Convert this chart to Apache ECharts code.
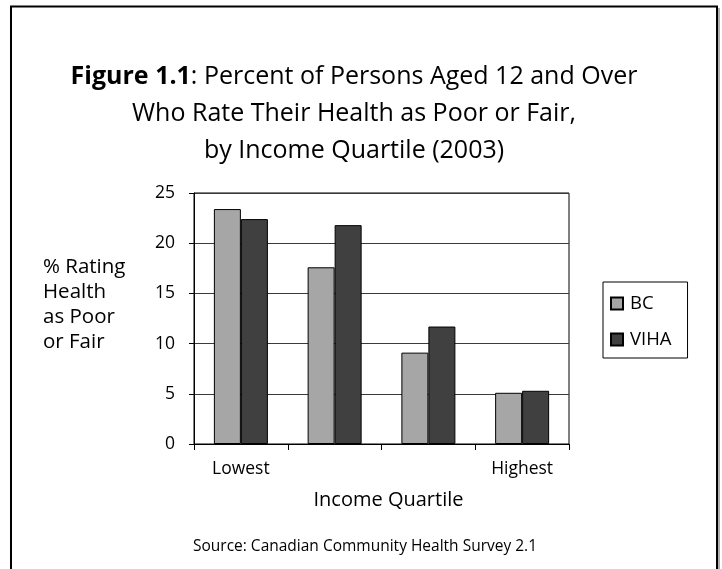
<!DOCTYPE html>
<html>
<head>
<meta charset="utf-8">
<script src="https://cdn.jsdelivr.net/npm/echarts@6/dist/echarts.min.js"></script>
<style>
  html, body { margin: 0; padding: 0; background: #fff; }
  #chart { width: 722px; height: 569px; }
</style>
</head>
<body>
<div id="chart"></div>
<script>
// Income quartiles along the x axis (only the two ends are labelled)
const quartileLabels = ['Lowest', '', '', 'Highest'];
// Percent rating their health as poor or fair
const bcValues = [23.4, 17.6, 9.1, 5.1];
const vihaValues = [22.4, 21.8, 11.7, 5.3];
const yTicks = [0, 5, 10, 15, 20, 25];

const FONT = '"Open Sans", "Noto Sans", sans-serif';

const chart = echarts.init(document.getElementById('chart'), null, { renderer: 'canvas' });

chart.setOption({
  backgroundColor: '#fff',
  animation: false,
  textStyle: { fontFamily: FONT, color: '#000' },
  legend: {
    orient: 'vertical',
    left: 603,
    top: 282,
    width: 60,
    padding: [12, 16, 9, 7],
    itemGap: 17,
    itemWidth: 12,
    itemHeight: 12,
    borderColor: '#000',
    borderWidth: 1,
    icon: 'rect',
    textStyle: { fontFamily: FONT, fontSize: 18.5, color: '#000', padding: [0, 0, 0, 2] },
    data: ['BC', 'VIHA']
  },
  grid: {
    left: 194,
    right: 153,
    top: 193,
    bottom: 125,
    show: true,
    borderColor: '#000',
    borderWidth: 1,
    containLabel: false
  },
  xAxis: {
    type: 'category',
    data: quartileLabels,
    name: 'Income Quartile',
    nameLocation: 'middle',
    nameGap: 46,
    nameTextStyle: { fontFamily: FONT, fontSize: 20, color: '#000', padding: [0, 0, 0, 14] },
    axisLine: { show: true, lineStyle: { color: '#000', width: 1 } },
    axisTick: { show: true, alignWithLabel: false, length: 6, lineStyle: { color: '#000' } },
    axisLabel: { fontFamily: FONT, fontSize: 17.5, color: '#000', margin: 16, interval: 0 },
    splitLine: { show: false }
  },
  yAxis: {
    type: 'value',
    min: yTicks[0],
    max: yTicks[yTicks.length - 1],
    interval: yTicks[1] - yTicks[0],
    axisLine: { show: true, lineStyle: { color: '#000', width: 1 } },
    axisTick: { show: true, length: 5, lineStyle: { color: '#000' } },
    axisLabel: { fontFamily: FONT, fontSize: 17.5, color: '#000', margin: 19 },
    splitLine: { show: true, lineStyle: { color: '#3a3a3a', width: 1 } }
  },
  series: [
    {
      name: 'BC',
      type: 'bar',
      data: bcValues,
      barWidth: 27,
      barGap: '0%',
      itemStyle: { color: '#a6a6a6', borderColor: '#000', borderWidth: 1 }
    },
    {
      name: 'VIHA',
      type: 'bar',
      data: vihaValues,
      barWidth: 27,
      barGap: '0%',
      itemStyle: { color: '#404040', borderColor: '#000', borderWidth: 1 }
    }
  ],
  graphic: [
    // outer frame with a soft shadow on the right edge
    {
      type: 'line',
      shape: { x1: 719, y1: 8, x2: 719, y2: 569 },
      style: { stroke: '#b0b0b0', lineWidth: 2 }
    },
    {
      type: 'rect',
      shape: { x: 11, y: 6.5, width: 706, height: 600 },
      style: { fill: 'none', stroke: '#000', lineWidth: 2 },
      silent: true
    },
    // three-line heading, first words in bold
    {
      type: 'text',
      x: 354,
      y: 58,
      style: {
        text: '{b|Figure 1.1}{n|: Percent of Persons Aged 12 and Over}\n{n|Who Rate Their Health as Poor or Fair,}\n{n|by Income Quartile (2003)}',
        align: 'center',
        verticalAlign: 'top',
        rich: {
          b: { fontFamily: FONT, fontSize: 25, fontWeight: 'bold', fill: '#000', lineHeight: 37 },
          n: { fontFamily: FONT, fontSize: 25, fontWeight: 'normal', fill: '#000', lineHeight: 37 }
        }
      }
    },
    {
      type: 'text',
      left: 43,
      top: 255,
      style: {
        text: '% Rating\nHealth\nas Poor\nor Fair',
        fontFamily: FONT,
        fontSize: 20.5,
        lineHeight: 25,
        fill: '#000'
      }
    },
    {
      type: 'text',
      x: 365,
      y: 547,
      style: {
        text: 'Source: Canadian Community Health Survey 2.1',
        fontFamily: FONT,
        fontSize: 15.5,
        fill: '#000',
        align: 'center',
        verticalAlign: 'middle'
      }
    }
  ]
});
</script>
</body>
</html>
